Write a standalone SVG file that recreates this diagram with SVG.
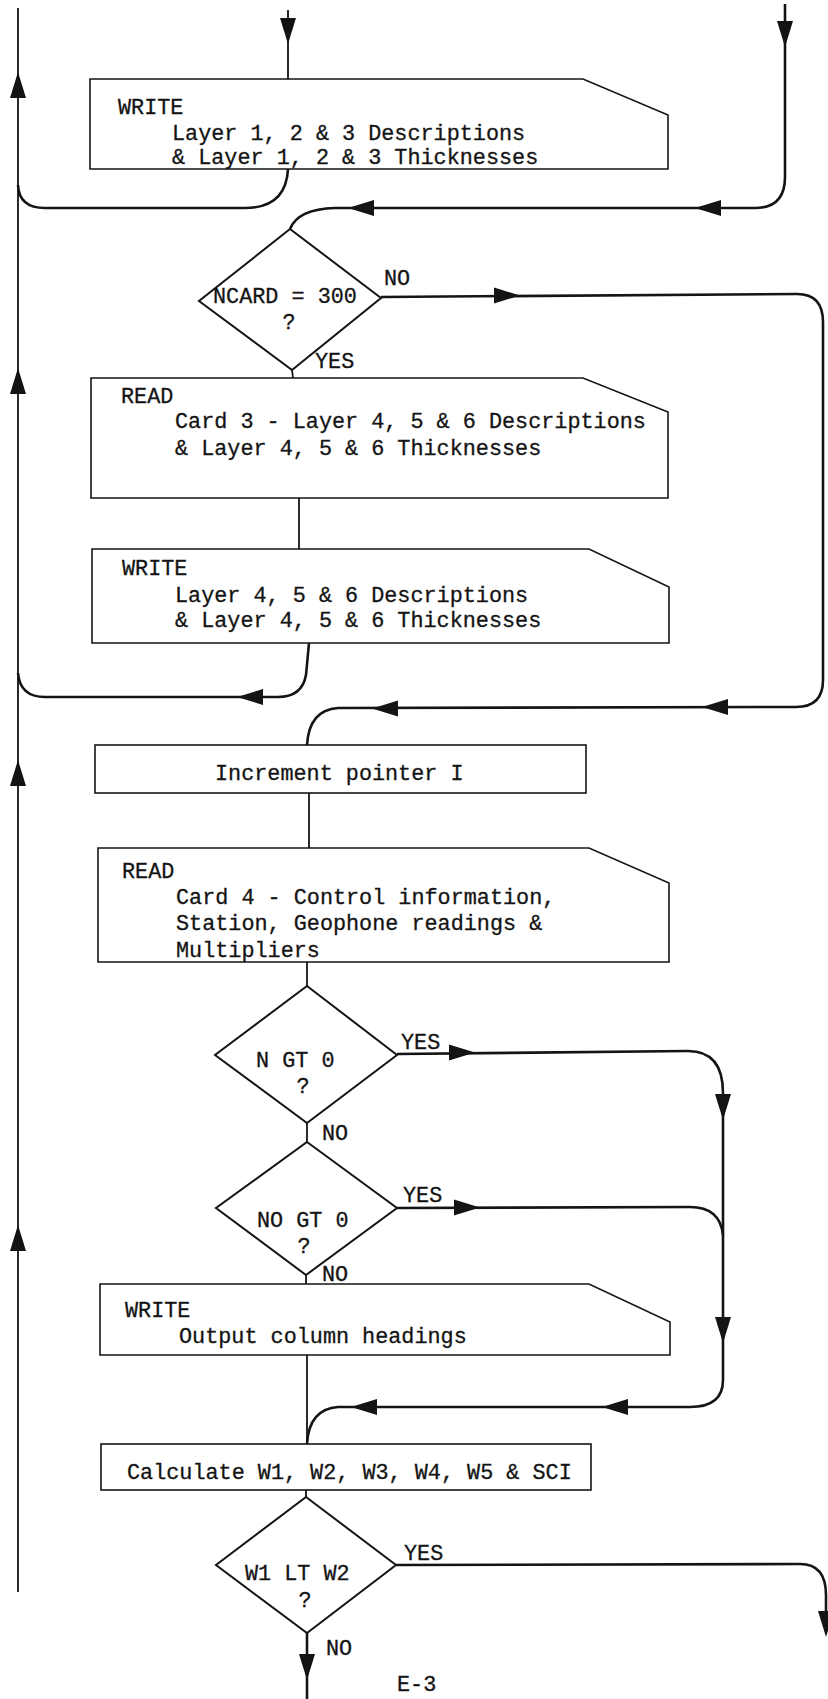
<svg xmlns="http://www.w3.org/2000/svg" xmlns:xlink="http://www.w3.org/1999/xlink" width="828" height="1699" viewBox="0 0 828 1699">
<style>
  .box{fill:none;stroke:#141414;stroke-width:1.6;stroke-linejoin:miter}
  .dia{fill:none;stroke:#141414;stroke-width:2}
  .ln{fill:none;stroke:#141414;stroke-width:2.6;stroke-linecap:butt}
  .thin{fill:none;stroke:#141414;stroke-width:1.8}
  .ah{fill:#141414}
  text{font-family:"Liberation Mono","Courier New",monospace;font-size:21.8px;fill:#141414;stroke:#141414;stroke-width:0.3}
  .mid{text-anchor:middle}
</style>
<defs>
  <path id="ah" d="M0,0 L-26,-8 L-26,8 Z"/>
</defs>
<rect width="828" height="1699" fill="#ffffff"/>

<g id="connectors">
  <!-- left return line -->
  <path class="thin" d="M18,8 L18,1592"/>
  <use href="#ah" class="ah" transform="translate(18,72) rotate(-90)"/>
  <use href="#ah" class="ah" transform="translate(18,368) rotate(-90)"/>
  <use href="#ah" class="ah" transform="translate(18,760) rotate(-90)"/>
  <use href="#ah" class="ah" transform="translate(18,1225) rotate(-90)"/>

  <!-- top incoming -->
  <path class="thin" d="M288,10 L288,79"/>
  <use href="#ah" class="ah" transform="translate(288,44) rotate(90)"/>

  <!-- write1 bottom to left loop -->
  <path class="ln" d="M288,169 Q286,208 245,208 L45,208 Q19,208 18,185"/>

  <!-- right incoming to NCARD -->
  <path class="ln" d="M785,4 L785,177 Q785,208 755,208 L335,208 Q298,209 290,229"/>
  <use href="#ah" class="ah" transform="translate(785,47) rotate(90)"/>
  <use href="#ah" class="ah" transform="translate(695,208) rotate(180)"/>
  <use href="#ah" class="ah" transform="translate(348,208) rotate(180)"/>

  <!-- NCARD NO -->
  <path class="ln" d="M381,297 L797,294 Q823,294 823,322 L823,680 Q823,707 796,707 L338,708 Q309,710 307,745"/>
  <use href="#ah" class="ah" transform="translate(520,295.5)"/>
  <use href="#ah" class="ah" transform="translate(702,707) rotate(180)"/>
  <use href="#ah" class="ah" transform="translate(372,708.5) rotate(180)"/>
  <text x="384" y="285">NO</text>

  <!-- NCARD YES -->
  <path class="thin" d="M292,370 L293,378"/>
  <text x="315" y="368">YES</text>

  <!-- READ3 to WRITE2 -->
  <path class="thin" d="M299,498 L299,549"/>

  <!-- WRITE2 bottom to left loop -->
  <path class="ln" d="M309,643 L306,675 Q302,697 278,697 L45,697 Q20,697 18,673"/>
  <use href="#ah" class="ah" transform="translate(237,697) rotate(180)"/>

  <!-- Increment to READ4 -->
  <path class="thin" d="M309,793 L309,848"/>

  <!-- READ4 to N GT 0 -->
  <path class="thin" d="M307,962 L307,986"/>

  <!-- N GT 0 YES -->
  <path class="ln" d="M397,1054 L688,1051 Q723,1051 723,1093 L723,1380 Q723,1407 690,1407 L338,1407 Q309,1409 307,1444"/>
  <use href="#ah" class="ah" transform="translate(475,1052.5)"/>
  <use href="#ah" class="ah" transform="translate(723,1120) rotate(90)"/>
  <use href="#ah" class="ah" transform="translate(723,1343) rotate(90)"/>
  <use href="#ah" class="ah" transform="translate(602,1407) rotate(180)"/>
  <use href="#ah" class="ah" transform="translate(351,1407) rotate(180)"/>
  <text x="401" y="1049">YES</text>

  <!-- N GT 0 NO -->
  <path class="thin" d="M307,1123 L307,1142"/>
  <text x="322" y="1140">NO</text>

  <!-- NO GT 0 YES -->
  <path class="ln" d="M397,1208 L690,1207 Q720,1207 723,1235"/>
  <use href="#ah" class="ah" transform="translate(480,1207.5)"/>
  <text x="403" y="1202">YES</text>

  <!-- NO GT 0 NO -->
  <path class="thin" d="M306,1275 L306,1284"/>
  <text x="322" y="1281">NO</text>

  <!-- WRITE3 to Calculate -->
  <path class="thin" d="M307,1355 L307,1444"/>

  <!-- Calculate to W1 -->
  <path class="thin" d="M306,1490 L306,1497"/>

  <!-- W1 YES -->
  <path class="ln" d="M396,1565 L800,1564 Q826,1564 826,1595 L826,1615"/>
  <use href="#ah" class="ah" transform="translate(826,1637) rotate(90)"/>
  <text x="404" y="1560">YES</text>

  <!-- W1 NO -->
  <path class="ln" d="M307,1633 L307,1699"/>
  <use href="#ah" class="ah" transform="translate(307,1680) rotate(90)"/>
  <text x="326" y="1655">NO</text>
</g>

<g id="n-write1">
  <polygon class="box" points="90,79 583,79 668,115 668,169 90,169"/>
  <text x="118" y="114">WRITE</text>
  <text x="172" y="140">Layer 1, 2 &amp; 3 Descriptions</text>
  <text x="172" y="164">&amp; Layer 1, 2 &amp; 3 Thicknesses</text>
</g>

<g id="d-ncard">
  <polygon class="dia" points="290,229 381,298 292,370 199,301"/>
  <text x="213" y="303">NCARD = 300</text>
  <text class="mid" x="289" y="329">?</text>
</g>

<g id="n-read3">
  <polygon class="box" points="91,378 583,378 668,412 668,498 91,498"/>
  <text x="121" y="403">READ</text>
  <text x="175" y="428">Card 3 - Layer 4, 5 &amp; 6 Descriptions</text>
  <text x="175" y="455">&amp; Layer 4, 5 &amp; 6 Thicknesses</text>
</g>

<g id="n-write2">
  <polygon class="box" points="92,549 589,549 669,587 669,643 92,643"/>
  <text x="122" y="575">WRITE</text>
  <text x="175" y="602">Layer 4, 5 &amp; 6 Descriptions</text>
  <text x="175" y="627">&amp; Layer 4, 5 &amp; 6 Thicknesses</text>
</g>

<g id="n-incr">
  <rect class="box" x="95" y="745" width="491" height="48"/>
  <text x="215" y="780">Increment pointer I</text>
</g>

<g id="n-read4">
  <polygon class="box" points="98,848 589,848 669,883 669,962 98,962"/>
  <text x="122" y="878">READ</text>
  <text x="176" y="904">Card 4 - Control information,</text>
  <text x="176" y="930">Station, Geophone readings &amp;</text>
  <text x="176" y="957">Multipliers</text>
</g>

<g id="d-ngt0">
  <polygon class="dia" points="307,986 397,1055 307,1123 215,1055"/>
  <text x="256" y="1067">N GT 0</text>
  <text class="mid" x="303" y="1093">?</text>
</g>

<g id="d-nogt0">
  <polygon class="dia" points="307,1142 397,1208 306,1275 216,1208"/>
  <text x="257" y="1227">NO GT 0</text>
  <text class="mid" x="304" y="1253">?</text>
</g>

<g id="n-write3">
  <polygon class="box" points="100,1284 589,1284 670,1322 670,1355 100,1355"/>
  <text x="125" y="1317">WRITE</text>
  <text x="179" y="1343">Output column headings</text>
</g>

<g id="n-calc">
  <rect class="box" x="101" y="1444" width="490" height="46"/>
  <text x="127" y="1479">Calculate W1, W2, W3, W4, W5 &amp; SCI</text>
</g>

<g id="d-w1lt">
  <polygon class="dia" points="306,1497 396,1565 307,1633 216,1565"/>
  <text x="245" y="1580">W1 LT W2</text>
  <text class="mid" x="305" y="1607">?</text>
</g>

<text id="page-label" x="397" y="1691">E-3</text>
</svg>
